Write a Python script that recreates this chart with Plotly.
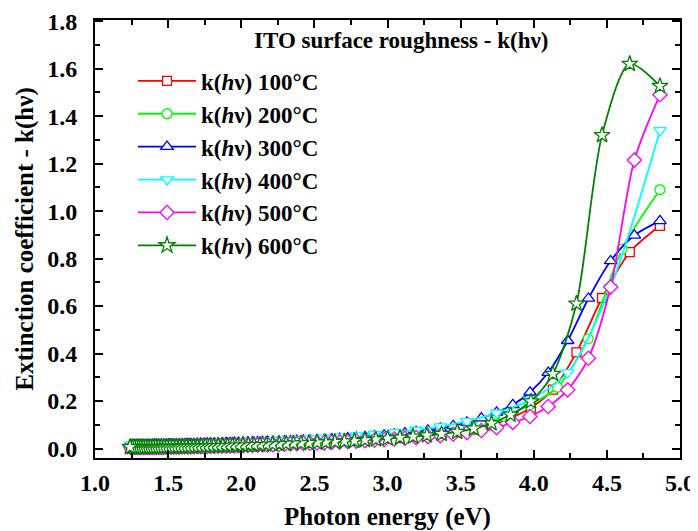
import plotly.graph_objects as go

# Sampling grids (wavelength, nm) of each measured series
wavelength_T = [255, 264.5, 274, 283.5, 293, 302.5, 312, 321.5, 331, 340.5, 350, 359.5, 369, 378.5,
                388, 397.5, 407, 416.5, 426, 435.5, 445, 454.5, 464, 473.5, 483, 492.5, 502, 511.5,
                521, 530.5, 540, 549.5, 559, 568.5, 578, 587.5, 597, 606.5, 616, 625.5, 635, 644.5,
                654, 663.5, 673, 682.5, 692, 701.5, 711, 720.5, 730, 739.5, 749, 758.5, 768, 777.5,
                787, 796.5, 806, 815.5, 825, 834.5, 844, 853.5, 863, 872.5, 882, 891.5, 901, 910.5,
                920, 929.5, 939, 948.5, 958, 967.5, 977, 986.5, 996]
wavelength_cyan = [255, 274, 293, 312, 331, 350, 369, 388, 407, 426, 445, 464, 483, 502, 521, 540,
                   559, 578, 597, 616, 635, 654, 673, 692, 711, 730, 749, 768, 787, 806, 825, 844,
                   863, 882, 901, 920, 939, 958, 977, 996]
wavelength_S = [255, 266.3, 277.6, 288.9, 300.2, 311.5, 322.8, 334.1, 345.4, 356.7, 368.0, 379.3,
                390.6, 401.9, 413.2, 424.5, 435.8, 447.1, 458.4, 469.7, 481.0, 492.3, 503.6, 514.9,
                526.2, 537.5, 548.8, 560.1, 571.4, 582.7, 594.0, 605.3, 616.6, 627.9, 639.2, 650.5,
                661.8, 673.1, 684.4, 695.7, 707.0, 718.3, 729.6, 740.9, 752.2, 763.5, 774.8, 786.1,
                797.4, 808.7, 820.0, 831.3, 842.6, 853.9, 865.2, 876.5, 887.8, 899.1, 910.4, 921.7,
                933.0, 944.3, 955.6, 966.9, 978.2, 989.5, 1000.8]
wavelength_C = [255, 269.3, 283.6, 297.9, 312.2, 326.5, 340.8, 355.1, 369.4, 383.7, 398.0, 412.3,
                426.6, 440.9, 455.2, 469.5, 483.8, 498.1, 512.4, 526.7, 541.0, 555.3, 569.6, 583.9,
                598.2, 612.5, 626.8, 641.1, 655.4, 669.7, 684.0, 698.3, 712.6, 726.9, 741.2, 755.5,
                769.8, 784.1, 798.4, 812.7, 827.0, 841.3, 855.6, 869.9, 884.2, 898.5, 912.8, 927.1,
                941.4, 955.7, 970.0, 984.3, 998.6]

k_100 = [0.938, 0.827, 0.634, 0.405, 0.248, 0.172, 0.128, 0.098, 0.080, 0.068,
         0.059, 0.053, 0.048, 0.044, 0.041, 0.038, 0.035, 0.033, 0.031, 0.029,
         0.027, 0.026, 0.024, 0.023, 0.022, 0.021, 0.020, 0.019, 0.018, 0.017,
         0.016, 0.015, 0.015, 0.014, 0.013, 0.013, 0.012, 0.012, 0.011, 0.011,
         0.010, 0.010, 0.010, 0.009, 0.009, 0.009, 0.009, 0.008, 0.008, 0.008,
         0.008, 0.008, 0.007, 0.007, 0.007, 0.007, 0.007, 0.007, 0.006, 0.006,
         0.006, 0.006, 0.006, 0.006, 0.006, 0.006, 0.006]
k_200 = [1.090, 0.840, 0.462, 0.258, 0.183, 0.135, 0.102, 0.082, 0.068, 0.059,
         0.052, 0.046, 0.041, 0.037, 0.034, 0.031, 0.029, 0.027, 0.025, 0.023,
         0.022, 0.021, 0.019, 0.018, 0.017, 0.016, 0.016, 0.015, 0.014, 0.014,
         0.013, 0.013, 0.012, 0.012, 0.011, 0.011, 0.011, 0.010, 0.010, 0.010,
         0.009, 0.009, 0.009, 0.009, 0.008, 0.008, 0.008, 0.008, 0.008, 0.008,
         0.008, 0.007, 0.007]
k_300 = [0.959, 0.898, 0.790, 0.632, 0.454, 0.320, 0.237, 0.184, 0.152, 0.128,
         0.110, 0.096, 0.085, 0.077, 0.070, 0.065, 0.060, 0.056, 0.052, 0.049,
         0.046, 0.044, 0.042, 0.040, 0.038, 0.037, 0.035, 0.034, 0.033, 0.032,
         0.031, 0.030, 0.029, 0.029, 0.028, 0.027, 0.027, 0.026, 0.026, 0.025,
         0.025, 0.024, 0.024, 0.023, 0.023, 0.022, 0.022, 0.022, 0.021, 0.021,
         0.021, 0.020, 0.020, 0.020, 0.019, 0.019, 0.019, 0.019, 0.018, 0.018,
         0.018, 0.018, 0.017, 0.017, 0.017, 0.017, 0.017, 0.016, 0.016, 0.016,
         0.016, 0.016, 0.016, 0.015, 0.015, 0.015, 0.015, 0.015, 0.015]
k_400 = [1.340, 0.680, 0.320, 0.205, 0.150, 0.115, 0.092, 0.078, 0.068, 0.060,
         0.054, 0.049, 0.045, 0.042, 0.039, 0.036, 0.034, 0.032, 0.030, 0.029,
         0.027, 0.026, 0.025, 0.024, 0.023, 0.022, 0.021, 0.021, 0.020, 0.019,
         0.019, 0.018, 0.018, 0.017, 0.017, 0.017, 0.016, 0.016, 0.016, 0.016]
k_500 = [1.490, 1.215, 0.680, 0.380, 0.247, 0.177, 0.135, 0.110, 0.088, 0.076,
         0.067, 0.060, 0.054, 0.050, 0.046, 0.043, 0.040, 0.037, 0.035, 0.033,
         0.031, 0.029, 0.027, 0.026, 0.024, 0.023, 0.022, 0.021, 0.020, 0.019,
         0.018, 0.017, 0.016, 0.015, 0.015, 0.014, 0.013, 0.013, 0.012, 0.012,
         0.011, 0.011, 0.010, 0.010, 0.010, 0.009, 0.009, 0.009, 0.008, 0.008,
         0.008, 0.008, 0.007, 0.007, 0.007, 0.007, 0.006, 0.006, 0.006, 0.006,
         0.006, 0.006, 0.005, 0.005, 0.005, 0.005, 0.005, 0.005, 0.005, 0.004,
         0.004, 0.004, 0.004, 0.004, 0.004, 0.004, 0.004, 0.004, 0.004]
k_600 = [1.527, 1.620, 1.320, 0.610, 0.314, 0.198, 0.142, 0.106, 0.084, 0.070,
         0.061, 0.055, 0.050, 0.046, 0.042, 0.038, 0.035, 0.032, 0.030, 0.028,
         0.026, 0.025, 0.023, 0.022, 0.021, 0.020, 0.019, 0.018, 0.017, 0.016,
         0.015, 0.015, 0.014, 0.013, 0.013, 0.012, 0.012, 0.011, 0.011, 0.010,
         0.010, 0.010, 0.009, 0.009, 0.009, 0.009, 0.008, 0.008, 0.008, 0.008,
         0.008, 0.007, 0.007, 0.007, 0.007, 0.007, 0.007, 0.006, 0.006, 0.006,
         0.006, 0.006, 0.006, 0.006, 0.006, 0.006, 0.006]

labels = ["k(<i>h</i>ν) 100°C", "k(<i>h</i>ν) 200°C", "k(<i>h</i>ν) 300°C",
          "k(<i>h</i>ν) 400°C", "k(<i>h</i>ν) 500°C", "k(<i>h</i>ν) 600°C"]
x_ticks = [1.0, 1.5, 2.0, 2.5, 3.0, 3.5, 4.0, 4.5, 5.0]
y_ticks = [0.0, 0.2, 0.4, 0.6, 0.8, 1.0, 1.2, 1.4, 1.6, 1.8]


def to_ev(wl):
    return [1240.0 / w for w in wl]


series = [
    (wavelength_S, k_100, "#FF0000", "square", 9),
    (wavelength_C, k_200, "#00FF00", "circle", 10),
    (wavelength_T, k_300, "#0000FF", "triangle-up", 11),
    (wavelength_cyan, k_400, "#00FFFF", "triangle-down", 11),
    (wavelength_T, k_500, "#FF00FF", "diamond", 11),
    (wavelength_S, k_600, "#008000", "star", 12),
]

FONT = "Liberation Serif, Times New Roman, serif"

fig = go.Figure()
for i, (wl, k, col, sym, ms) in enumerate(series):
    fig.add_trace(go.Scatter(
        x=to_ev(wl), y=k, name=labels[i], mode="lines+markers",
        legendgroup=str(i),
        line=dict(color=col, width=1.8, shape="spline", smoothing=0.8),
        marker=dict(symbol=sym, size=ms, color="white", line=dict(color=col, width=1.3)),
    ))

axis_common = dict(
    showline=True, linecolor="black", linewidth=2, mirror="ticks",
    ticks="inside", ticklen=8, tickwidth=2, tickcolor="black",
    showgrid=False, zeroline=False, automargin=False,
    tickfont=dict(family=FONT, size=24, color="black", weight="bold"),
    tickformat=".1f",
)

fig.update_xaxes(
    range=[1.0, 5.0], tickvals=x_ticks, ticklabelstandoff=2,
    minor=dict(ticks="inside", ticklen=5, tickwidth=1.5, tickcolor="black", dtick=0.25),
    title=dict(text="Photon energy (eV)", font=dict(family=FONT, size=25, color="black", weight="bold"),
               standoff=14),
    **axis_common,
)
fig.update_yaxes(
    range=[-0.04, 1.805], tickvals=y_ticks, ticklabelstandoff=11,
    minor=dict(ticks="inside", ticklen=5, tickwidth=1.5, tickcolor="black", dtick=0.1),
    title=dict(text="Extinction coefficient - k(hν)",
               font=dict(family=FONT, size=25, color="black", weight="bold"), standoff=6),
    **axis_common,
)

fig.add_annotation(
    text="ITO surface roughness - k(hν)", xref="paper", yref="paper",
    x=0.523, y=0.953, xanchor="center", yanchor="middle", showarrow=False,
    font=dict(family=FONT, size=23, color="black", weight="bold"),
)

# The page body adds an 8 px margin, so the figure is 8 px smaller on each axis
fig.update_layout(
    width=690, height=523,
    margin=dict(l=87, r=18, t=12, b=73, autoexpand=False),
    paper_bgcolor="white", plot_bgcolor="white",
    showlegend=True,
    legend=dict(
        x=0.065, y=0.91, xanchor="left", yanchor="top",
        bgcolor="rgba(0,0,0,0)", borderwidth=0,
        font=dict(family=FONT, size=23, color="black", weight="bold"),
        itemwidth=58, tracegroupgap=0, traceorder="normal",
    ),
)

fig.write_html("out.html")
